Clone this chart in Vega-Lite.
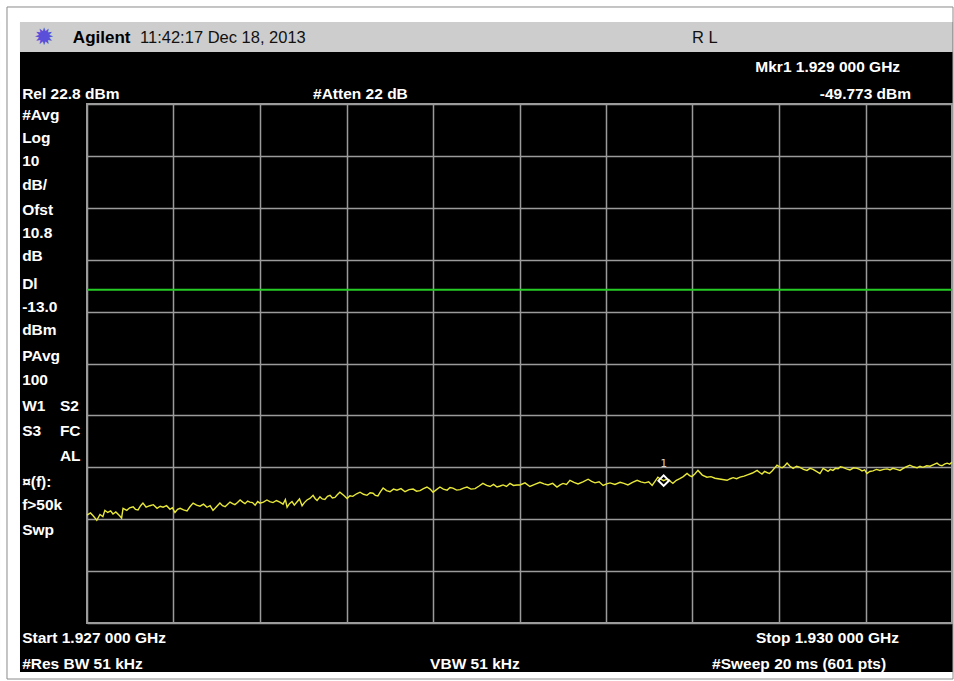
{
  "$schema": "https://vega.github.io/schema/vega-lite/v6.json",
  "width": 865,
  "height": 519,
  "autosize": {"type": "none"},
  "padding": {"left": 87, "top": 104, "right": 2, "bottom": 58},
  "background": "#000000",
  "config": {
    "view": {"stroke": "#9b9b9b", "strokeWidth": 2},
    "axis": {"labels": false, "ticks": false, "domain": false, "title": null, "grid": true, "gridColor": "#9b9b9b", "gridWidth": 1.5, "gridOpacity": 1}
  },
  "datasets": {
    "trace": [
      {"f": 1927.000, "dbm": -56.4}, {"f": 1927.012, "dbm": -56.0}, {"f": 1927.022, "dbm": -56.6}, {"f": 1927.034, "dbm": -57.4},
      {"f": 1927.045, "dbm": -56.3}, {"f": 1927.055, "dbm": -56.7}, {"f": 1927.062, "dbm": -55.5}, {"f": 1927.072, "dbm": -55.9},
      {"f": 1927.082, "dbm": -55.6}, {"f": 1927.090, "dbm": -56.2}, {"f": 1927.100, "dbm": -55.8}, {"f": 1927.114, "dbm": -56.6},
      {"f": 1927.120, "dbm": -57.0}, {"f": 1927.125, "dbm": -55.1}, {"f": 1927.138, "dbm": -55.5}, {"f": 1927.148, "dbm": -55.0},
      {"f": 1927.160, "dbm": -54.8}, {"f": 1927.168, "dbm": -55.3}, {"f": 1927.177, "dbm": -55.4}, {"f": 1927.186, "dbm": -54.6},
      {"f": 1927.194, "dbm": -54.1}, {"f": 1927.205, "dbm": -54.9}, {"f": 1927.218, "dbm": -54.6}, {"f": 1927.230, "dbm": -54.4},
      {"f": 1927.243, "dbm": -55.1}, {"f": 1927.254, "dbm": -54.7}, {"f": 1927.264, "dbm": -54.9}, {"f": 1927.276, "dbm": -54.6},
      {"f": 1927.288, "dbm": -55.3}, {"f": 1927.296, "dbm": -55.0}, {"f": 1927.305, "dbm": -55.9}, {"f": 1927.314, "dbm": -55.3},
      {"f": 1927.323, "dbm": -55.1}, {"f": 1927.335, "dbm": -55.4}, {"f": 1927.347, "dbm": -55.6}, {"f": 1927.357, "dbm": -54.8},
      {"f": 1927.368, "dbm": -54.1}, {"f": 1927.380, "dbm": -54.5}, {"f": 1927.392, "dbm": -54.7}, {"f": 1927.404, "dbm": -54.3},
      {"f": 1927.416, "dbm": -54.9}, {"f": 1927.427, "dbm": -54.6}, {"f": 1927.437, "dbm": -55.5}, {"f": 1927.449, "dbm": -54.8},
      {"f": 1927.461, "dbm": -54.1}, {"f": 1927.470, "dbm": -54.6}, {"f": 1927.479, "dbm": -54.8}, {"f": 1927.488, "dbm": -54.3},
      {"f": 1927.496, "dbm": -53.9}, {"f": 1927.505, "dbm": -54.2}, {"f": 1927.513, "dbm": -54.4}, {"f": 1927.522, "dbm": -54.0},
      {"f": 1927.531, "dbm": -53.5}, {"f": 1927.540, "dbm": -53.9}, {"f": 1927.548, "dbm": -54.2}, {"f": 1927.557, "dbm": -53.7},
      {"f": 1927.565, "dbm": -53.9}, {"f": 1927.574, "dbm": -54.0}, {"f": 1927.583, "dbm": -54.5}, {"f": 1927.592, "dbm": -53.8},
      {"f": 1927.600, "dbm": -54.1}, {"f": 1927.612, "dbm": -53.9}, {"f": 1927.624, "dbm": -53.5}, {"f": 1927.634, "dbm": -53.8},
      {"f": 1927.645, "dbm": -54.0}, {"f": 1927.657, "dbm": -53.6}, {"f": 1927.669, "dbm": -53.9}, {"f": 1927.680, "dbm": -54.3},
      {"f": 1927.688, "dbm": -53.4}, {"f": 1927.694, "dbm": -54.9}, {"f": 1927.702, "dbm": -54.2}, {"f": 1927.711, "dbm": -53.8},
      {"f": 1927.719, "dbm": -54.5}, {"f": 1927.728, "dbm": -53.9}, {"f": 1927.737, "dbm": -53.3}, {"f": 1927.746, "dbm": -54.6},
      {"f": 1927.754, "dbm": -54.0}, {"f": 1927.763, "dbm": -53.5}, {"f": 1927.773, "dbm": -53.2}, {"f": 1927.784, "dbm": -52.6},
      {"f": 1927.791, "dbm": -53.2}, {"f": 1927.798, "dbm": -53.6}, {"f": 1927.808, "dbm": -52.9}, {"f": 1927.816, "dbm": -53.3},
      {"f": 1927.825, "dbm": -53.4}, {"f": 1927.834, "dbm": -52.8}, {"f": 1927.843, "dbm": -52.6}, {"f": 1927.851, "dbm": -53.1},
      {"f": 1927.860, "dbm": -53.0}, {"f": 1927.868, "dbm": -52.5}, {"f": 1927.877, "dbm": -52.0}, {"f": 1927.890, "dbm": -52.6},
      {"f": 1927.902, "dbm": -53.2}, {"f": 1927.912, "dbm": -52.7}, {"f": 1927.922, "dbm": -52.8}, {"f": 1927.935, "dbm": -52.3},
      {"f": 1927.947, "dbm": -52.0}, {"f": 1927.959, "dbm": -52.4}, {"f": 1927.971, "dbm": -52.6}, {"f": 1927.982, "dbm": -52.1},
      {"f": 1927.992, "dbm": -52.2}, {"f": 1928.000, "dbm": -52.6}, {"f": 1928.009, "dbm": -52.7}, {"f": 1928.018, "dbm": -51.9},
      {"f": 1928.027, "dbm": -51.2}, {"f": 1928.039, "dbm": -51.7}, {"f": 1928.051, "dbm": -51.9}, {"f": 1928.063, "dbm": -51.4},
      {"f": 1928.075, "dbm": -51.6}, {"f": 1928.089, "dbm": -51.3}, {"f": 1928.103, "dbm": -51.9}, {"f": 1928.117, "dbm": -51.5},
      {"f": 1928.131, "dbm": -51.4}, {"f": 1928.143, "dbm": -51.8}, {"f": 1928.155, "dbm": -51.7}, {"f": 1928.167, "dbm": -51.3},
      {"f": 1928.179, "dbm": -51.0}, {"f": 1928.190, "dbm": -51.4}, {"f": 1928.200, "dbm": -52.0}, {"f": 1928.212, "dbm": -51.5},
      {"f": 1928.224, "dbm": -51.0}, {"f": 1928.236, "dbm": -51.4}, {"f": 1928.249, "dbm": -51.6}, {"f": 1928.259, "dbm": -51.1},
      {"f": 1928.269, "dbm": -51.2}, {"f": 1928.282, "dbm": -51.6}, {"f": 1928.294, "dbm": -51.5}, {"f": 1928.306, "dbm": -51.2},
      {"f": 1928.318, "dbm": -51.0}, {"f": 1928.332, "dbm": -51.4}, {"f": 1928.346, "dbm": -51.3}, {"f": 1928.360, "dbm": -50.8},
      {"f": 1928.373, "dbm": -50.3}, {"f": 1928.386, "dbm": -50.7}, {"f": 1928.398, "dbm": -50.9}, {"f": 1928.410, "dbm": -50.5},
      {"f": 1928.422, "dbm": -51.0}, {"f": 1928.433, "dbm": -50.8}, {"f": 1928.443, "dbm": -50.6}, {"f": 1928.455, "dbm": -50.9},
      {"f": 1928.467, "dbm": -50.3}, {"f": 1928.479, "dbm": -50.7}, {"f": 1928.491, "dbm": -50.6}, {"f": 1928.502, "dbm": -50.6},
      {"f": 1928.519, "dbm": -50.2}, {"f": 1928.536, "dbm": -50.9}, {"f": 1928.553, "dbm": -50.5}, {"f": 1928.571, "dbm": -50.1},
      {"f": 1928.585, "dbm": -50.4}, {"f": 1928.599, "dbm": -50.6}, {"f": 1928.615, "dbm": -50.3}, {"f": 1928.630, "dbm": -51.0},
      {"f": 1928.641, "dbm": -50.6}, {"f": 1928.651, "dbm": -50.3}, {"f": 1928.663, "dbm": -50.5}, {"f": 1928.675, "dbm": -49.7},
      {"f": 1928.689, "dbm": -50.1}, {"f": 1928.703, "dbm": -50.4}, {"f": 1928.720, "dbm": -50.0}, {"f": 1928.738, "dbm": -49.5},
      {"f": 1928.750, "dbm": -49.9}, {"f": 1928.762, "dbm": -50.2}, {"f": 1928.776, "dbm": -50.0}, {"f": 1928.790, "dbm": -50.7},
      {"f": 1928.802, "dbm": -50.4}, {"f": 1928.814, "dbm": -50.2}, {"f": 1928.831, "dbm": -50.5}, {"f": 1928.849, "dbm": -50.1},
      {"f": 1928.862, "dbm": -50.3}, {"f": 1928.876, "dbm": -50.6}, {"f": 1928.892, "dbm": -50.1}, {"f": 1928.908, "dbm": -49.7},
      {"f": 1928.921, "dbm": -50.0}, {"f": 1928.935, "dbm": -50.2}, {"f": 1928.948, "dbm": -50.0}, {"f": 1928.960, "dbm": -50.7},
      {"f": 1928.970, "dbm": -49.9}, {"f": 1928.980, "dbm": -49.1}, {"f": 1928.990, "dbm": -49.5}, {"f": 1929.000, "dbm": -49.77},
      {"f": 1929.010, "dbm": -49.5}, {"f": 1929.018, "dbm": -49.6}, {"f": 1929.025, "dbm": -50.0}, {"f": 1929.032, "dbm": -50.3},
      {"f": 1929.044, "dbm": -49.7}, {"f": 1929.056, "dbm": -49.4}, {"f": 1929.068, "dbm": -49.0}, {"f": 1929.081, "dbm": -48.4},
      {"f": 1929.090, "dbm": -48.8}, {"f": 1929.098, "dbm": -49.0}, {"f": 1929.108, "dbm": -48.5}, {"f": 1929.119, "dbm": -47.8},
      {"f": 1929.134, "dbm": -48.7}, {"f": 1929.150, "dbm": -49.1}, {"f": 1929.164, "dbm": -49.0}, {"f": 1929.178, "dbm": -49.3},
      {"f": 1929.199, "dbm": -49.5}, {"f": 1929.220, "dbm": -49.7}, {"f": 1929.231, "dbm": -49.4}, {"f": 1929.241, "dbm": -49.2},
      {"f": 1929.253, "dbm": -49.4}, {"f": 1929.265, "dbm": -49.1}, {"f": 1929.279, "dbm": -48.9}, {"f": 1929.293, "dbm": -48.6},
      {"f": 1929.308, "dbm": -48.3}, {"f": 1929.324, "dbm": -47.8}, {"f": 1929.333, "dbm": -48.2}, {"f": 1929.341, "dbm": -48.5},
      {"f": 1929.350, "dbm": -48.0}, {"f": 1929.358, "dbm": -48.2}, {"f": 1929.367, "dbm": -48.4}, {"f": 1929.376, "dbm": -47.9},
      {"f": 1929.384, "dbm": -47.4}, {"f": 1929.393, "dbm": -46.8}, {"f": 1929.402, "dbm": -47.1}, {"f": 1929.411, "dbm": -47.3},
      {"f": 1929.420, "dbm": -46.9}, {"f": 1929.428, "dbm": -46.4}, {"f": 1929.438, "dbm": -47.0}, {"f": 1929.449, "dbm": -47.4},
      {"f": 1929.461, "dbm": -47.0}, {"f": 1929.473, "dbm": -47.2}, {"f": 1929.485, "dbm": -47.6}, {"f": 1929.497, "dbm": -47.8},
      {"f": 1929.508, "dbm": -47.4}, {"f": 1929.518, "dbm": -47.6}, {"f": 1929.530, "dbm": -48.0}, {"f": 1929.542, "dbm": -48.4},
      {"f": 1929.553, "dbm": -47.4}, {"f": 1929.562, "dbm": -47.7}, {"f": 1929.570, "dbm": -48.0}, {"f": 1929.578, "dbm": -47.6},
      {"f": 1929.587, "dbm": -47.8}, {"f": 1929.596, "dbm": -47.4}, {"f": 1929.605, "dbm": -47.5}, {"f": 1929.613, "dbm": -47.1},
      {"f": 1929.622, "dbm": -47.2}, {"f": 1929.634, "dbm": -47.5}, {"f": 1929.646, "dbm": -47.7}, {"f": 1929.659, "dbm": -47.3},
      {"f": 1929.671, "dbm": -47.4}, {"f": 1929.680, "dbm": -47.6}, {"f": 1929.688, "dbm": -47.9}, {"f": 1929.697, "dbm": -47.7},
      {"f": 1929.705, "dbm": -48.4}, {"f": 1929.715, "dbm": -48.0}, {"f": 1929.726, "dbm": -47.9}, {"f": 1929.738, "dbm": -47.6},
      {"f": 1929.750, "dbm": -47.8}, {"f": 1929.763, "dbm": -47.6}, {"f": 1929.775, "dbm": -47.5}, {"f": 1929.785, "dbm": -47.7},
      {"f": 1929.795, "dbm": -47.4}, {"f": 1929.808, "dbm": -47.6}, {"f": 1929.820, "dbm": -47.8}, {"f": 1929.828, "dbm": -47.5},
      {"f": 1929.837, "dbm": -47.2}, {"f": 1929.846, "dbm": -47.0}, {"f": 1929.854, "dbm": -46.8}, {"f": 1929.866, "dbm": -47.1},
      {"f": 1929.879, "dbm": -47.3}, {"f": 1929.889, "dbm": -47.0}, {"f": 1929.899, "dbm": -47.2}, {"f": 1929.912, "dbm": -46.9},
      {"f": 1929.924, "dbm": -47.0}, {"f": 1929.936, "dbm": -46.7}, {"f": 1929.948, "dbm": -46.4}, {"f": 1929.957, "dbm": -46.8},
      {"f": 1929.965, "dbm": -46.9}, {"f": 1929.974, "dbm": -46.6}, {"f": 1929.983, "dbm": -46.4}, {"f": 1929.992, "dbm": -46.6},
      {"f": 1930.000, "dbm": -46.2}
    ],
    "marker": [{"f": 1929.0, "dbm": -49.773, "label": "1"}],
    "labelsL": [
      {"t": "Rel 22.8 dBm", "f": 1926.775, "v": 24.73},
      {"t": "#Atten 22 dB", "f": 1927.784, "v": 24.73},
      {"t": "#Avg", "f": 1926.775, "v": 20.68},
      {"t": "Log", "f": 1926.775, "v": 16.25},
      {"t": "10", "f": 1926.775, "v": 11.82},
      {"t": "dB/", "f": 1926.775, "v": 7.19},
      {"t": "Ofst", "f": 1926.775, "v": 2.38},
      {"t": "10.8", "f": 1926.775, "v": -2.06},
      {"t": "dB", "f": 1926.775, "v": -6.49},
      {"t": "Dl", "f": 1926.775, "v": -11.88},
      {"t": "-13.0", "f": 1926.775, "v": -16.31},
      {"t": "dBm", "f": 1926.775, "v": -20.75},
      {"t": "PAvg", "f": 1926.775, "v": -25.76},
      {"t": "100", "f": 1926.775, "v": -30.38},
      {"t": "W1", "f": 1926.775, "v": -35.39},
      {"t": "S2", "f": 1926.906, "v": -35.39},
      {"t": "S3", "f": 1926.775, "v": -40.21},
      {"t": "FC", "f": 1926.906, "v": -40.21},
      {"t": "AL", "f": 1926.906, "v": -45.02},
      {"t": "¤(f):", "f": 1926.775, "v": -50.03},
      {"t": "f>50k", "f": 1926.775, "v": -54.46},
      {"t": "Swp", "f": 1926.775, "v": -59.28},
      {"t": "Start 1.927 000 GHz", "f": 1926.775, "v": -80.09},
      {"t": "#Res BW 51 kHz", "f": 1926.775, "v": -85.10},
      {"t": "VBW 51 kHz", "f": 1928.190, "v": -85.10},
      {"t": "#Sweep 20 ms (601 pts)", "f": 1929.168, "v": -85.10}
    ],
    "labelsR": [
      {"t": "Mkr1  1.929 000 GHz", "f": 1929.820, "v": 29.93},
      {"t": "-49.773 dBm", "f": 1929.858, "v": 24.73},
      {"t": "Stop 1.930 000 GHz", "f": 1929.816, "v": -80.09}
    ],
    "bar": [
      {"t": "11:42:17  Dec 18, 2013", "f": 1927.184, "v": 35.52},
      {"t": "R  L", "f": 1929.098, "v": 35.52}
    ],
    "brand": [{"t": "Agilent", "f": 1926.951, "v": 35.52}],
    "logo": [{"t": "✹", "f": 1926.851, "v": 35.52}]
  },
  "layer": [
    {
      "data": {"values": [{}]},
      "mark": {"type": "rect", "fill": "#ffffff"},
      "encoding": {"x": {"datum": 1926.6983}, "x2": {"datum": 1930.0069}, "y": {"datum": 38.60}, "y2": {"datum": 42.84}}
    },
    {
      "data": {"values": [{}]},
      "mark": {"type": "rect", "fill": "#ffffff"},
      "encoding": {"x": {"datum": 1926.6983}, "x2": {"datum": 1926.7676}, "y": {"datum": -88.38}, "y2": {"datum": 42.84}}
    },
    {
      "data": {"values": [{}]},
      "mark": {"type": "rect", "fill": "#ffffff"},
      "encoding": {"x": {"datum": 1930.003}, "x2": {"datum": 1930.0069}, "y": {"datum": -88.38}, "y2": {"datum": 42.84}}
    },
    {
      "data": {"values": [{}]},
      "mark": {"type": "rect", "fill": "#ffffff"},
      "encoding": {"x": {"datum": 1926.6983}, "x2": {"datum": 1930.0069}, "y": {"datum": -88.38}, "y2": {"datum": -86.64}}
    },
    {
      "data": {"values": [{}]},
      "mark": {"type": "rect", "fill": "#cdcdcd"},
      "encoding": {"x": {"datum": 1926.7676}, "x2": {"datum": 1930.003}, "y": {"datum": 32.82}, "y2": {"datum": 38.60}}
    },
    {
      "data": {"values": [{}]},
      "mark": {"type": "rect", "fillOpacity": 0, "stroke": "#8a8a8a", "strokeWidth": 1},
      "encoding": {"x": {"datum": 1926.7225}, "x2": {"datum": 1930.0035}, "y": {"datum": -87.99}, "y2": {"datum": 41.49}}
    },
    {
      "data": {"values": [{}]},
      "mark": {"type": "rule", "color": "#26cc26", "strokeWidth": 2},
      "encoding": {"y": {"datum": -13.0}}
    },
    {
      "data": {"name": "trace"},
      "mark": {"type": "line", "color": "#e8e83a", "strokeWidth": 1.4, "interpolate": "linear"},
      "encoding": {
        "x": {"field": "f", "type": "quantitative", "title": null,
              "scale": {"domain": [1927, 1930], "nice": false, "zero": false},
              "axis": {"values": [1927, 1927.3, 1927.6, 1927.9, 1928.2, 1928.5, 1928.8, 1929.1, 1929.4, 1929.7, 1930]}},
        "y": {"field": "dbm", "type": "quantitative", "title": null,
              "scale": {"domain": [-77.2, 22.8], "nice": false, "zero": false},
              "axis": {"values": [22.8, 12.8, 2.8, -7.2, -17.2, -27.2, -37.2, -47.2, -57.2, -67.2, -77.2]}}
      }
    },
    {
      "data": {"name": "marker"},
      "mark": {"type": "point", "shape": "diamond", "filled": false, "stroke": "#ffffff", "strokeWidth": 2, "size": 110, "opacity": 1},
      "encoding": {"x": {"field": "f", "type": "quantitative"}, "y": {"field": "dbm", "type": "quantitative"}}
    },
    {
      "data": {"name": "marker"},
      "mark": {"type": "text", "color": "#d0d0d0", "font": "DejaVu Sans Mono", "fontSize": 11, "dy": -17},
      "encoding": {"x": {"field": "f", "type": "quantitative"}, "y": {"field": "dbm", "type": "quantitative"}, "text": {"field": "label"}}
    },
    {
      "data": {"name": "labelsL"},
      "mark": {"type": "text", "align": "left", "baseline": "middle", "color": "#ffffff", "font": "Liberation Sans", "fontWeight": "bold", "fontSize": 15.5},
      "encoding": {"x": {"field": "f", "type": "quantitative"}, "y": {"field": "v", "type": "quantitative"}, "text": {"field": "t"}}
    },
    {
      "data": {"name": "labelsR"},
      "mark": {"type": "text", "align": "right", "baseline": "middle", "color": "#ffffff", "font": "Liberation Sans", "fontWeight": "bold", "fontSize": 15.5},
      "encoding": {"x": {"field": "f", "type": "quantitative"}, "y": {"field": "v", "type": "quantitative"}, "text": {"field": "t"}}
    },
    {
      "data": {"name": "bar"},
      "mark": {"type": "text", "align": "left", "baseline": "middle", "color": "#111111", "font": "Liberation Sans", "fontSize": 16.5},
      "encoding": {"x": {"field": "f", "type": "quantitative"}, "y": {"field": "v", "type": "quantitative"}, "text": {"field": "t"}}
    },
    {
      "data": {"name": "brand"},
      "mark": {"type": "text", "align": "left", "baseline": "middle", "color": "#000000", "font": "Liberation Sans", "fontWeight": "bold", "fontSize": 17},
      "encoding": {"x": {"field": "f", "type": "quantitative"}, "y": {"field": "v", "type": "quantitative"}, "text": {"field": "t"}}
    },
    {
      "data": {"name": "logo"},
      "mark": {"type": "text", "align": "center", "baseline": "middle", "color": "#5a4fd8", "font": "DejaVu Sans", "fontSize": 24},
      "encoding": {"x": {"field": "f", "type": "quantitative"}, "y": {"field": "v", "type": "quantitative"}, "text": {"field": "t"}}
    }
  ]
}
